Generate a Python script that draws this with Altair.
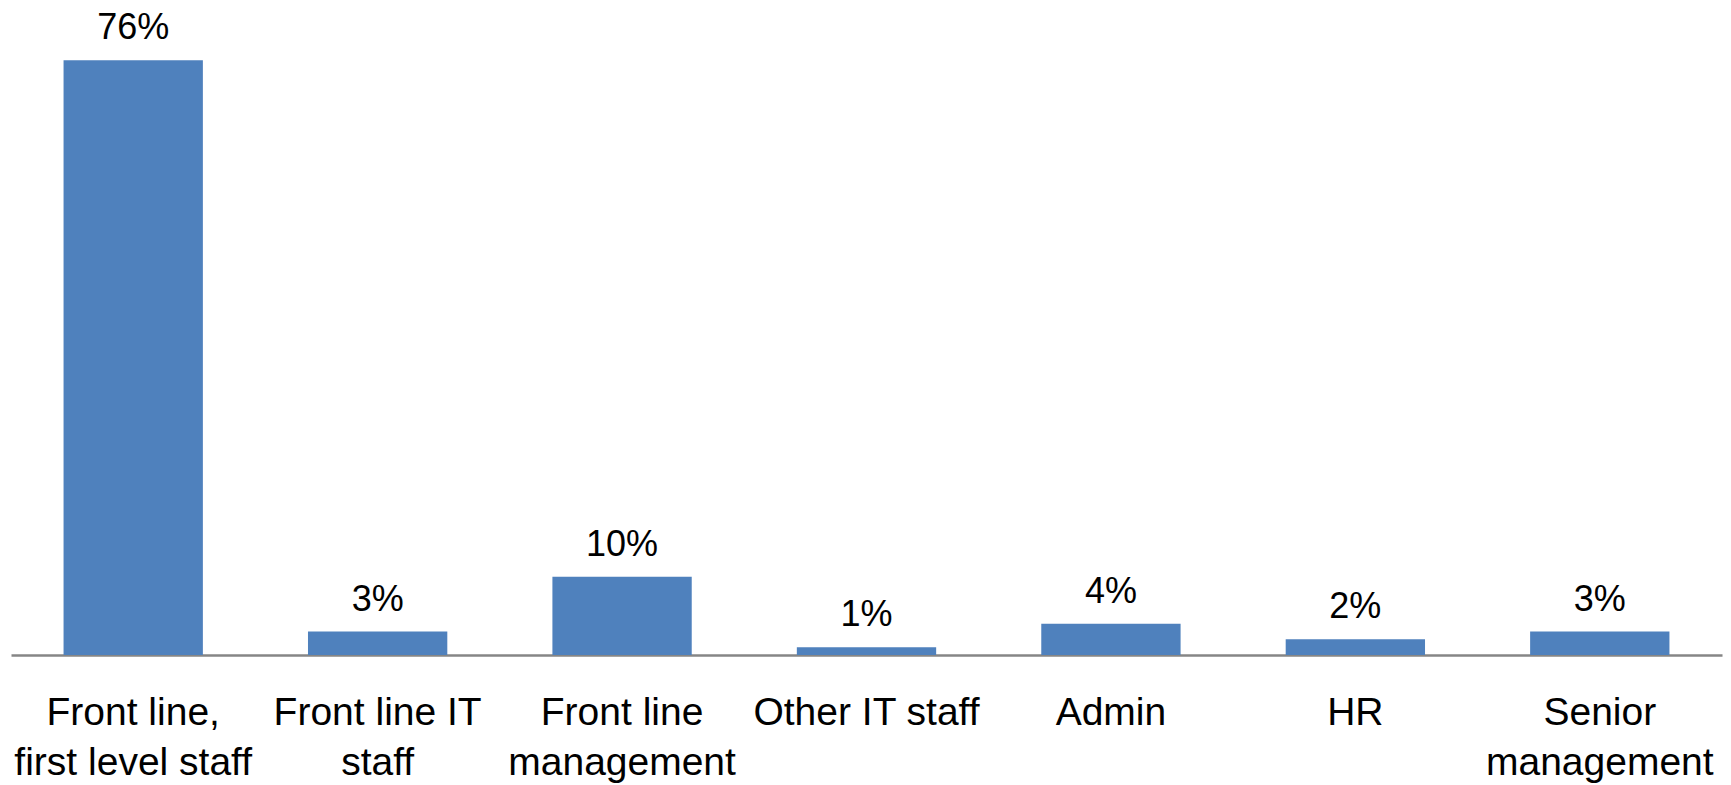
import altair as alt
import pandas as pd

categories = ["Front line,|first level staff", "Front line IT|staff", "Front line|management",
              "Other IT staff", "Admin", "HR", "Senior|management"]
values = [76, 3, 10, 1, 4, 2, 3]
labels = ["76%", "3%", "10%", "1%", "4%", "2%", "3%"]

df = pd.DataFrame({"cat": categories, "val": values, "lab": labels})

FONT = "Liberation Sans"

x = alt.X("cat:N", sort=categories,
          scale=alt.Scale(paddingInner=0.43, paddingOuter=0.215),
          axis=alt.Axis(title=None, labelAngle=0, labelExpr="split(datum.label, '|')",
                        labelFont=FONT, labelFontSize=39, labelColor="#000000",
                        labelLineHeight=50, labelPadding=38, labelBaseline="top",
                        ticks=False, grid=False, domainColor="#868686", domainWidth=2.5,
                        labelLimit=400))
y = alt.Y("val:Q", scale=alt.Scale(domain=[0, 80], nice=False), axis=None)

bars = alt.Chart(df).mark_bar(color="#4F81BD").encode(x=x, y=y)
text = alt.Chart(df).mark_text(font=FONT, fontSize=36, color="#000000",
                               baseline="alphabetic", dy=-21).encode(x=x, y=y, text="lab:N")

chart = (bars + text).properties(
    width=1711, height=626,
    background="#ffffff",
    autosize=alt.AutoSizeParams(type="none"),
    padding={"left": 11, "top": 29, "right": 9, "bottom": 130},
).configure_view(strokeWidth=0, stroke="transparent")

chart.save("out.html", embed_options={"renderer": "svg", "actions": False})
